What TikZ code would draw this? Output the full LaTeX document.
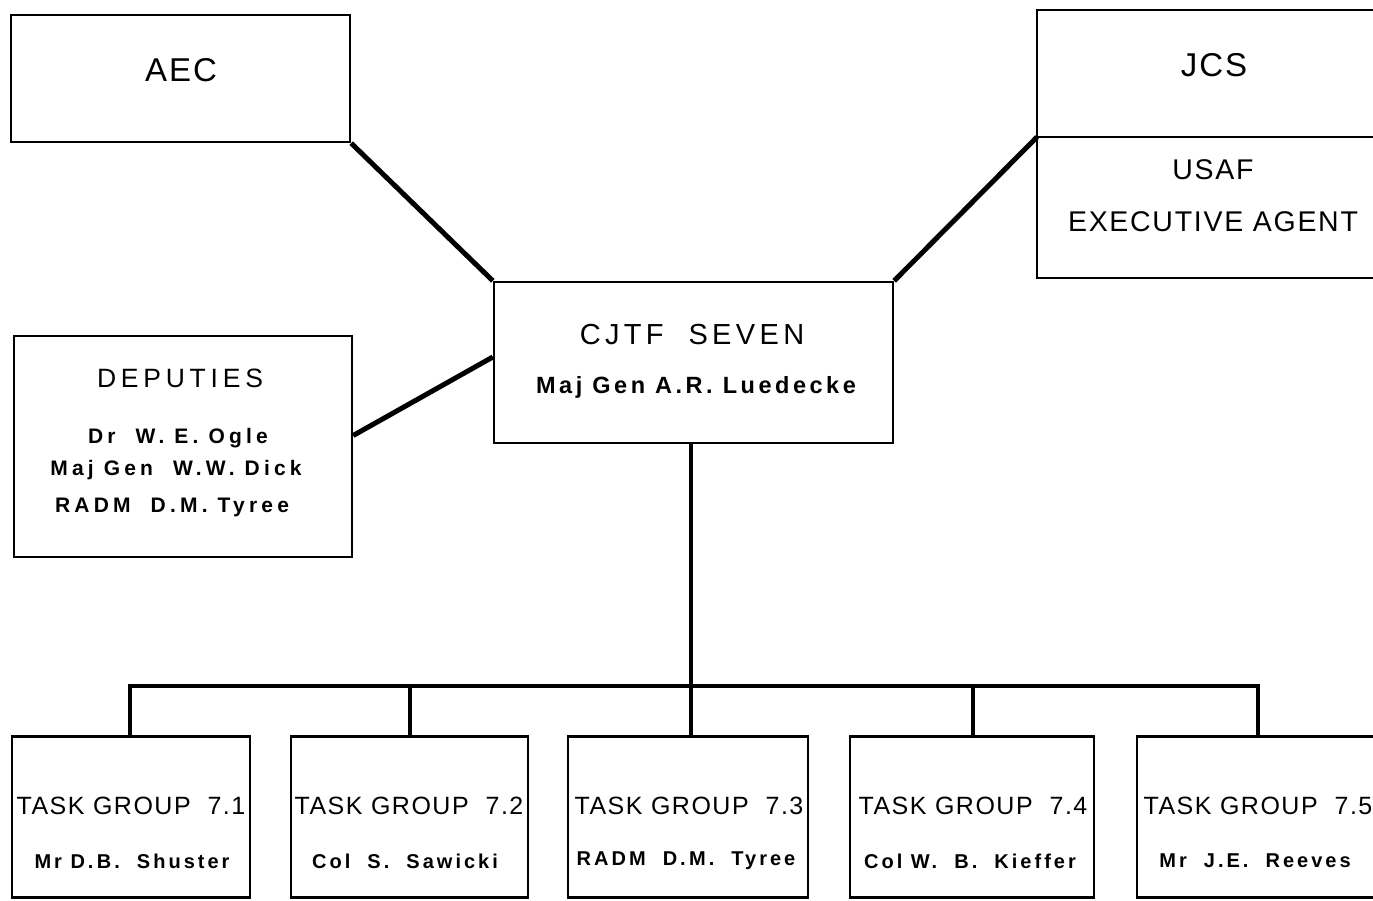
\documentclass[tikz,border=0pt]{standalone}
\usepackage{fontspec}
\setmainfont{Liberation Sans}
\newfontfamily\lsA[LetterSpace=6]{Liberation Sans}
\newfontfamily\lsB[LetterSpace=15]{Liberation Sans}
\newfontfamily\lsC[LetterSpace=15]{Liberation Sans}[BoldFont={Liberation Sans Bold}]
\newfontfamily\lsE[LetterSpace=20]{Liberation Sans}[BoldFont={Liberation Sans Bold}]
\newfontfamily\lsD[LetterSpace=18]{Liberation Sans}
\begin{document}
\begin{tikzpicture}[x=1pt,y=-1pt,
  box/.style={draw,line width=2.4pt,inner sep=0pt,rectangle},
  conn/.style={line width=5pt},
  bus/.style={line width=4pt},
  big/.style={font=\lsA\fontsize{33}{38}\selectfont},
  mid/.style={font=\lsA\fontsize{28.5}{34}\selectfont},
  tg/.style={font=\lsA\fontsize{25}{30}\selectfont},
  who/.style={font=\lsC\bfseries\fontsize{20}{24}\selectfont},
  dwho/.style={font=\lsE\bfseries\fontsize{21}{25}\selectfont},
  ttl/.style={font=\lsD\fontsize{26.5}{31}\selectfont}]
\clip (0,0) rectangle (1373,900);
\fill[white] (0,0) rectangle (1373,900);
% boxes
\node[box,minimum width=339pt,minimum height=127pt] (aec) at (180.5,78.5) {};
\node[box,minimum width=348pt,minimum height=268pt] (jcs) at (1211,144) {};
\coordinate (jcsdiv) at (1037,137);
\coordinate (jcsdivr) at (1385,137);
\draw[line width=2.4pt] (jcsdiv) -- (jcsdivr);
\node[box,minimum width=399pt,minimum height=161pt] (cjtf) at (693.5,362.5) {};
\node[box,minimum width=338pt,minimum height=221pt] (dep) at (183,446.5) {};
\node[box,minimum width=238pt,minimum height=161pt] (tg1) at (131,817) {};
\node[box,minimum width=237pt,minimum height=161pt] (tg2) at (409.5,817) {};
\node[box,minimum width=240pt,minimum height=161pt] (tg3) at (688,817) {};
\node[box,minimum width=244pt,minimum height=161pt] (tg4) at (972,817) {};
\node[box,minimum width=250pt,minimum height=161pt] (tg5) at (1262,817) {};
% texts
\node[big] (taec) at (181,70) {AEC};
\node[big] (tjcs) at (1214,65) {JCS};
\node[mid] (tusaf) at (1213,170) {USAF};
\node[mid] (texec) at (1213,222) {EXECUTIVE AGENT};
\node[font=\lsB\fontsize{29}{34}\selectfont] (tcjtf) at (692,335) {CJTF\ \ SEVEN};
\node[font=\lsC\bfseries\fontsize{23.5}{27}\selectfont] (tlue) at (696,387) {Maj Gen A.R. Luedecke};
\node[ttl] (tdep) at (180,378) {DEPUTIES};
\node[dwho] (td1) at (178,438) {Dr\ \ W.\ E.\ Ogle};
\node[dwho] (td2) at (176,470) {Maj Gen\ \ W.W.\ Dick};
\node[dwho] (td3) at (172,507) {RADM\ \ D.M.\ Tyree};
\node[tg] (h1) at (131,806) {TASK GROUP\ \ 7.1};
\node[tg] (h2) at (409,806) {TASK GROUP\ \ 7.2};
\node[tg] (h3) at (689,806) {TASK GROUP\ \ 7.3};
\node[tg] (h4) at (973,806) {TASK GROUP\ \ 7.4};
\node[tg] (h5) at (1258,806) {TASK GROUP\ \ 7.5};
\node[who] (n1) at (132,861) {Mr D.\,B.\ \ Shuster};
\node[who] (n2) at (405,861) {Col\ \ S.\ \ Sawicki};
\node[who] (n3) at (686,861) {RADM\ \ D.\,M.\ \ Tyree};
\node[who] (n4) at (970,861) {Col W.\ \ B.\ \ Kieffer};
\node[who] (n5) at (1255,861) {Mr\ \ J.E.\ \ Reeves};
% connectors
\draw[conn] (aec.south east) -- (cjtf.north west);
\draw[conn] (jcsdiv) -- (cjtf.north east);
\draw[conn] ([yshift=11pt]dep.east) -- ([yshift=5.5pt]cjtf.west);
\coordinate (busc) at (691,686);
\coordinate (busl) at (130,686);
\coordinate (busr) at (1258,686);
\draw[bus] (cjtf.south -| busc) -- (busc);
\draw[bus,line join=miter] (tg1.north -| busl) -- (busl) -- (busr) -- (tg5.north -| busr);
\draw[bus] (tg2.north) -- (tg2.north |- busc);
\draw[bus] (busc) -- (tg3.north -| busc);
\draw[bus] (tg4.north -| 973,0) -- (973,686);
\end{tikzpicture}
\end{document}
